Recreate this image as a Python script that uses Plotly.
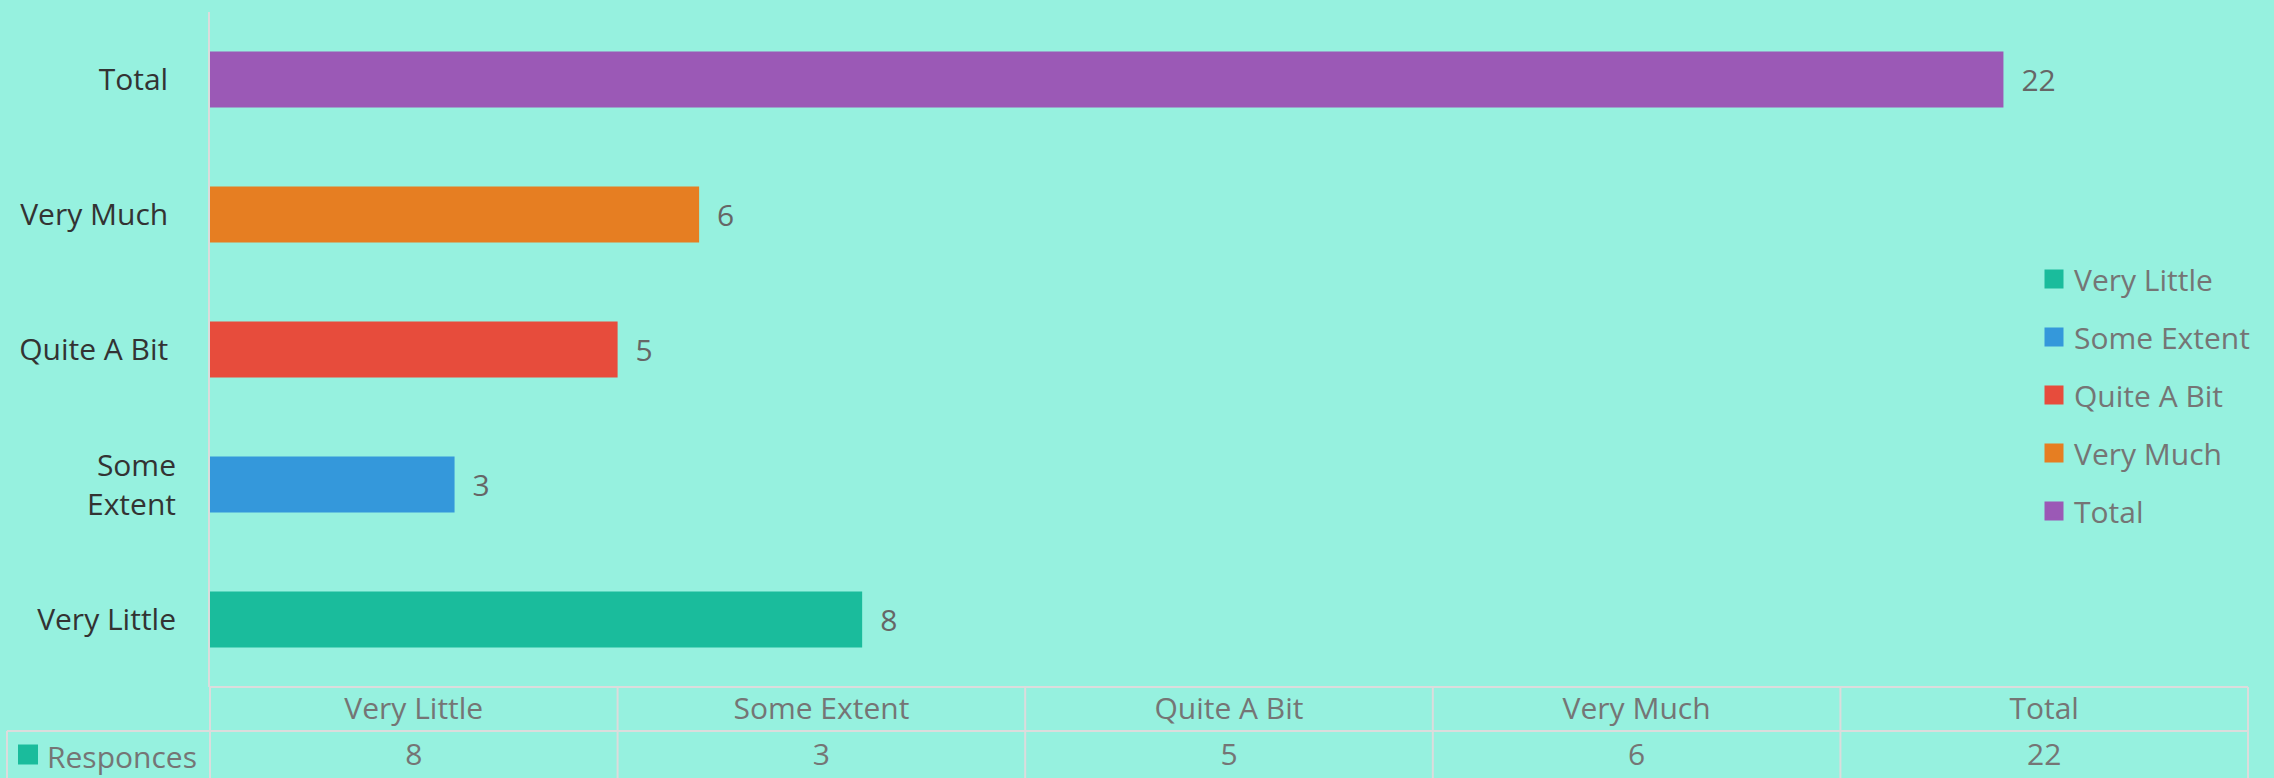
import plotly.graph_objects as go

# ---- data ----
categories = ["Very Little", "Some Extent", "Quite A Bit", "Very Much", "Total"]
responses = [8, 3, 5, 6, 22]
series_name = "Responces"
colors = ["#1abc9c", "#3498db", "#e74c3c", "#e67e22", "#9b59b6"]
y_tick_text = ["Very Little", "Some<br>Extent", "Quite A Bit\u00a0", "Very Much\u00a0", "Total\u00a0"]

W, H = 2274, 778
BG = "#96f1df"
GRID = "#dcdcdc"
FONT = "Open Sans, Segoe UI, sans-serif"
FS = 30

# layout geometry (pixels -> paper)
X0, X1 = 210 / W, 2248 / W
PLOT_Y0, PLOT_Y1 = 1 - 687 / H, 1 - 12 / H
TAB_Y0, TAB_Y1 = 0.0, 1 - 687 / H

fig = go.Figure()

for cat, val, col in zip(categories, responses, colors):
    fig.add_trace(go.Bar(
        x=[val], y=[cat], orientation="h", name=cat,
        marker=dict(color=col, line=dict(width=0)),
        text=[val], texttemplate="\u2002%{x}", textposition="outside",
        textfont=dict(family=FONT, size=FS, color="#666666"),
        cliponaxis=False, legendgroup=cat, showlegend=False,
        hoverinfo="x+y",
    ))
    # legend proxy (larger square swatch)
    fig.add_trace(go.Scatter(
        x=[None], y=[None], mode="markers", name=cat, legendgroup=cat,
        marker=dict(symbol="square", size=16, color=col, line=dict(width=3, color=col)),
        showlegend=True, hoverinfo="skip",
    ))

# data table text (header row + values row) on a category axis spanning the plot width
fig.add_trace(go.Scatter(
    x=categories, y=["header"] * len(categories), mode="text", text=categories,
    textfont=dict(family=FONT, size=FS, color="#757575"),
    xaxis="x2", yaxis="y2", showlegend=False, hoverinfo="skip", cliponaxis=False,
))
fig.add_trace(go.Scatter(
    x=categories, y=["values"] * len(categories), mode="text", text=[str(v) for v in responses],
    textfont=dict(family=FONT, size=FS, color="#757575"),
    xaxis="x2", yaxis="y2", showlegend=False, hoverinfo="skip", cliponaxis=False,
))

shapes = []
n = len(categories)
line = dict(color=GRID, width=2)
# table horizontal lines
shapes.append(dict(type="line", xref="paper", yref="paper", x0=X0, x1=X1, y0=TAB_Y1, y1=TAB_Y1, line=line))
mid = TAB_Y0 + (TAB_Y1 - TAB_Y0) * (47 / 91)
shapes.append(dict(type="line", xref="paper", yref="paper", x0=7 / W, x1=X1, y0=mid, y1=mid, line=line))
# table vertical lines
for i in range(n + 1):
    xx = X0 + (X1 - X0) * i / n
    shapes.append(dict(type="line", xref="paper", yref="paper", x0=xx, x1=xx, y0=TAB_Y0 - 0.01, y1=TAB_Y1, line=line))
# series label cell left border
shapes.append(dict(type="line", xref="paper", yref="paper", x0=7 / W, x1=7 / W, y0=TAB_Y0 - 0.01, y1=mid, line=line))
# series legend key in table
val_center = (TAB_Y0 + mid) / 2
shapes.append(dict(type="rect", xref="paper", yref="paper",
                   x0=18 / W, x1=38 / W, y0=val_center - 10 / H, y1=val_center + 10 / H,
                   fillcolor=colors[0], line=dict(width=0)))

annotations = [dict(
    x=45 / W, y=val_center - 2 / H, xref="paper", yref="paper", xanchor="left", yanchor="middle",
    text=series_name, showarrow=False, font=dict(family=FONT, size=FS, color="#757575"),
)]

fig.update_layout(
    width=W, height=H,
    margin=dict(l=0, r=0, t=0, b=0),
    paper_bgcolor=BG, plot_bgcolor=BG,
    barmode="overlay", bargap=0.585,
    font=dict(family=FONT, size=FS, color="#757575"),
    xaxis=dict(domain=[X0, X1], range=[0, 25], showgrid=False, zeroline=False,
               showline=False, showticklabels=False, ticks=""),
    yaxis=dict(domain=[PLOT_Y0, PLOT_Y1], type="category", categoryorder="array",
               categoryarray=categories, tickvals=categories, ticktext=y_tick_text,
               showgrid=False, zeroline=False, showline=True, linecolor=GRID, linewidth=2,
               ticks="outside", ticklen=26, tickcolor="rgba(0,0,0,0)",
               tickfont=dict(family=FONT, size=FS, color="#333333")),
    xaxis2=dict(domain=[X0, X1], type="category", categoryorder="array",
                categoryarray=categories, range=[-0.5, n - 0.5], visible=False, anchor="y2"),
    yaxis2=dict(domain=[TAB_Y0, TAB_Y1], type="category", categoryorder="array",
                categoryarray=["values", "header"], range=[-0.451, 1.549],
                visible=False, anchor="x2"),
    legend=dict(x=2034 / W, y=1 - 253 / H, xanchor="left", yanchor="top",
                bgcolor="rgba(0,0,0,0)", traceorder="grouped", tracegroupgap=16,
                font=dict(family=FONT, size=FS, color="#757575")),
    shapes=shapes,
    annotations=annotations,
    showlegend=True,
)

fig.write_html("out.html", config={"displayModeBar": False},
               post_script="document.body.style.margin='0';document.body.style.overflow='hidden';")
